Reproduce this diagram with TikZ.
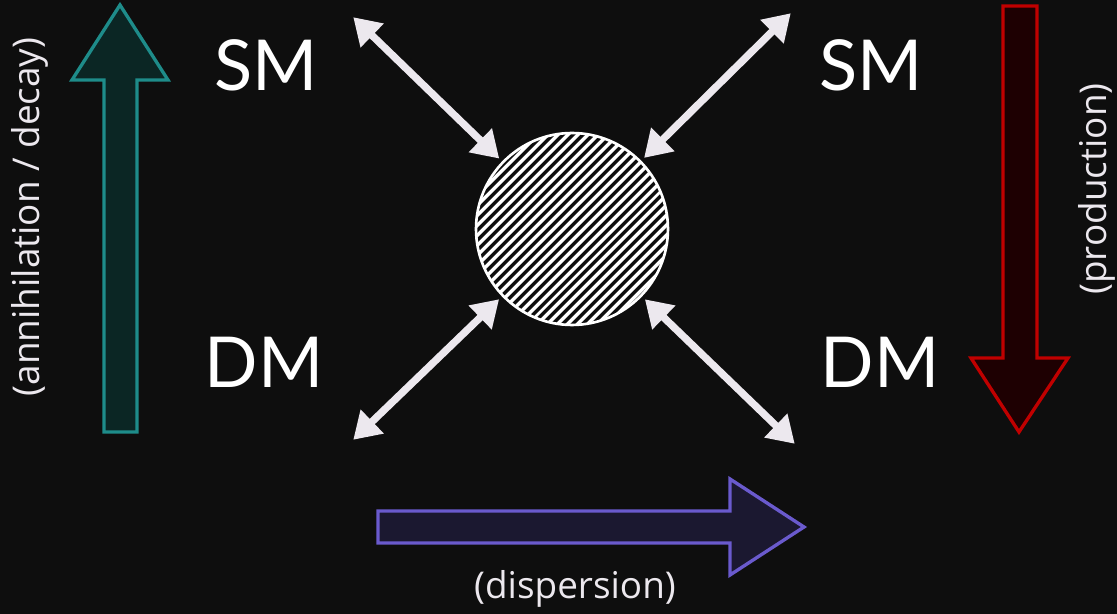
\documentclass[tikz,border=0pt]{standalone}
\usepackage{fontspec}
\setmainfont{Lato}
\newfontfamily\labelfont{Open Sans}
\usetikzlibrary{arrows.meta,patterns.meta}

\definecolor{board}{HTML}{0E0E0E}
\definecolor{chalk}{HTML}{ECE8EE}
\definecolor{tealline}{HTML}{1E8C8A}
\definecolor{tealfill}{HTML}{0B2624}
\definecolor{redline}{HTML}{C00000}
\definecolor{redfill}{HTML}{1E0002}
\definecolor{purpline}{HTML}{6A5ACD}
\definecolor{purpfill}{HTML}{1B1830}

\tikzset{
  particle/.style={text=white, font=\fontsize{40}{44}\selectfont},
  process/.style={text=chalk, font=\labelfont\fontsize{21}{24}\selectfont},
  flow/.style={<->, chalk, line width=4.2pt, shorten <=1pt, shorten >=2pt,
    >={Triangle[width=18pt,length=15pt]}},
  blockarrow/.style={line width=1.9pt, line join=miter}
}

\begin{document}
\begin{tikzpicture}[x=0.02cm, y=-0.02cm]

  % board
  \fill[board] (0,0) rectangle (1117,614);
  \useasboundingbox (0,0) rectangle (1117,614);

  % interaction blob
  \node[circle, draw=white, line width=1.5pt, minimum size=3.84cm, inner sep=0pt,
    pattern={Lines[angle=45, distance=4pt, line width=2pt]}, pattern color=white]
    (blob) at (572,229) {};

  % particles
  \node[particle] (smleft)  at (266,65)  {SM};
  \node[particle] (smright) at (871,65)  {SM};
  \node[particle] (dmleft)  at (264,362) {DM};
  \node[particle] (dmright) at (880,362) {DM};

  % free ends of the legs
  \coordinate (tl) at (352,16);
  \coordinate (tr) at (792,12);
  \coordinate (bl) at (352,441);
  \coordinate (br) at (796,445);

  \draw[flow] (tl) -- (blob);
  \draw[flow] (tr) -- (blob);
  \draw[flow] (bl) -- (blob);
  \draw[flow] (br) -- (blob);

  % annihilation / decay (up)
  \draw[blockarrow, draw=tealline, fill=tealfill]
    (104,432) -- (104,80) -- (72,80) -- (120,5) -- (168,80) -- (137,80) -- (137,432) -- cycle;
  \node[process, rotate=90] (annih) at (30,217) {(annihilation / decay)};

  % production (down)
  \draw[blockarrow, draw=redline, fill=redfill]
    (1003,6) -- (1003,358) -- (971,358) -- (1019,432) -- (1068,358) -- (1037,358) -- (1037,6) -- cycle;
  \node[process, rotate=90] (prod) at (1097,189) {(production)};

  % dispersion (right)
  \draw[blockarrow, draw=purpline, fill=purpfill]
    (378,511) -- (730,511) -- (730,479) -- (804,527) -- (730,575) -- (730,543) -- (378,543) -- cycle;
  \node[process] (disp) at (575,589) {(dispersion)};

\end{tikzpicture}
\end{document}
